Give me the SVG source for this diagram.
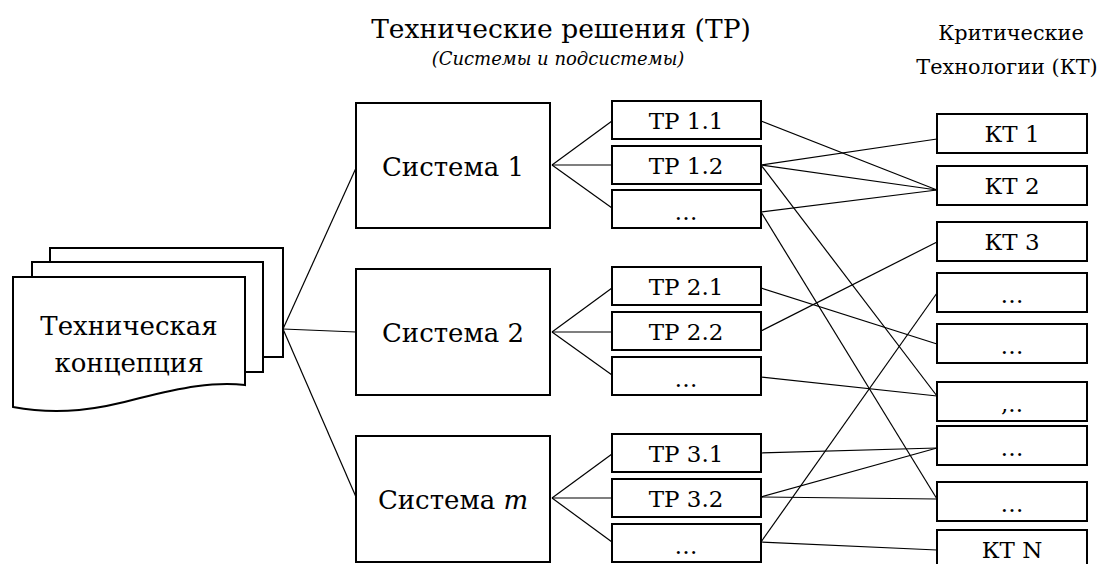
<svg xmlns="http://www.w3.org/2000/svg" width="1102" height="564" viewBox="0 0 1102 564">
<style>
.box{fill:#fff;stroke:#000;stroke-width:2}
.ln{stroke:#000;stroke-width:1.2;fill:none}
text{font-family:"DejaVu Serif",serif;fill:#000;text-anchor:middle}
.big{font-size:26.5px}
.sys{font-size:26px}
.hd{font-size:20.8px}
.mid{font-size:23px}
.it{font-style:italic;font-size:18px}
</style>
<rect width="1102" height="564" fill="#fff"/>
<g id="titles">
<text class="big" x="561" y="38">Технические решения (ТР)</text>
<text class="it" x="558" y="65">(Системы и подсистемы)</text>
<text class="hd" x="1011" y="40">Критические</text>
<text class="hd" x="1007" y="74">Технологии (КТ)</text>
</g>
<g id="connectors">
<line class="ln" x1="283" y1="329" x2="356" y2="168"/>
<line class="ln" x1="283" y1="329" x2="356" y2="332"/>
<line class="ln" x1="283" y1="329" x2="356" y2="497"/>
<line class="ln" x1="552" y1="165" x2="612" y2="121"/>
<line class="ln" x1="552" y1="165" x2="612" y2="165"/>
<line class="ln" x1="552" y1="165" x2="612" y2="208"/>
<line class="ln" x1="552" y1="332" x2="612" y2="288"/>
<line class="ln" x1="552" y1="332" x2="612" y2="332"/>
<line class="ln" x1="552" y1="332" x2="612" y2="375"/>
<line class="ln" x1="552" y1="498" x2="612" y2="454"/>
<line class="ln" x1="552" y1="498" x2="612" y2="498"/>
<line class="ln" x1="552" y1="498" x2="612" y2="542"/>
<line class="ln" x1="761" y1="121" x2="937" y2="190"/>
<line class="ln" x1="761" y1="165" x2="937" y2="139"/>
<line class="ln" x1="761" y1="165" x2="937" y2="190"/>
<line class="ln" x1="761" y1="165" x2="937" y2="396"/>
<line class="ln" x1="761" y1="212" x2="937" y2="190"/>
<line class="ln" x1="761" y1="212" x2="937" y2="499"/>
<line class="ln" x1="761" y1="288" x2="937" y2="344"/>
<line class="ln" x1="761" y1="331" x2="937" y2="242"/>
<line class="ln" x1="761" y1="377" x2="937" y2="396"/>
<line class="ln" x1="761" y1="453" x2="937" y2="448"/>
<line class="ln" x1="761" y1="497" x2="937" y2="448"/>
<line class="ln" x1="761" y1="497" x2="937" y2="499"/>
<line class="ln" x1="761" y1="542" x2="937" y2="293"/>
<line class="ln" x1="761" y1="542" x2="937" y2="550"/>
</g>
<g id="concept">
<rect class="box" x="50" y="248" width="233" height="109"/>
<rect class="box" x="32" y="262" width="231" height="110"/>
<path class="box" d="M13,277 H245 V385 C215,381 180,388 140,398 C100,409 60,416 13,407 Z"/>
<text class="sys" x="129" y="335">Техническая</text>
<text class="sys" x="129" y="372">концепция</text>
</g>
<g id="sys1"><rect class="box" x="356" y="103" width="194" height="125"/><text class="sys" x="453" y="176">Система 1</text></g>
<g id="sys2"><rect class="box" x="356" y="269" width="194" height="126"/><text class="sys" x="453" y="342">Система 2</text></g>
<g id="sysm"><rect class="box" x="356" y="436" width="194" height="126"/><text class="sys" x="453" y="509">Система <tspan font-style="italic">m</tspan></text></g>
<g id="tr11"><rect class="box" x="612" y="101" width="149" height="38"/><text class="mid" x="686" y="129">ТР 1.1</text></g>
<g id="tr12"><rect class="box" x="612" y="146" width="149" height="38"/><text class="mid" x="686" y="174">ТР 1.2</text></g>
<g id="tr1x"><rect class="box" x="612" y="190" width="149" height="38"/><text class="mid" x="686" y="220">…</text></g>
<g id="tr21"><rect class="box" x="612" y="267" width="149" height="38"/><text class="mid" x="686" y="295">ТР 2.1</text></g>
<g id="tr22"><rect class="box" x="612" y="312" width="149" height="38"/><text class="mid" x="686" y="340">ТР 2.2</text></g>
<g id="tr2x"><rect class="box" x="612" y="357" width="149" height="38"/><text class="mid" x="686" y="387">…</text></g>
<g id="tr31"><rect class="box" x="612" y="434" width="149" height="38"/><text class="mid" x="686" y="462">ТР 3.1</text></g>
<g id="tr32"><rect class="box" x="612" y="479" width="149" height="38"/><text class="mid" x="686" y="507">ТР 3.2</text></g>
<g id="tr3x"><rect class="box" x="612" y="524" width="149" height="38"/><text class="mid" x="686" y="554">…</text></g>
<g id="kt1"><rect class="box" x="937" y="114" width="150" height="39"/><text class="mid" x="1012" y="142">КТ 1</text></g>
<g id="kt2"><rect class="box" x="937" y="166" width="150" height="39"/><text class="mid" x="1012" y="194">КТ 2</text></g>
<g id="kt3"><rect class="box" x="937" y="222" width="150" height="39"/><text class="mid" x="1012" y="250">КТ 3</text></g>
<g id="ktx1"><rect class="box" x="937" y="273" width="150" height="39"/><text class="mid" x="1012" y="303">…</text></g>
<g id="ktx2"><rect class="box" x="937" y="324" width="150" height="39"/><text class="mid" x="1012" y="354">…</text></g>
<g id="ktx3"><rect class="box" x="937" y="382" width="150" height="39"/><text class="mid" x="1012" y="412">,..</text></g>
<g id="ktx4"><rect class="box" x="937" y="426" width="150" height="39"/><text class="mid" x="1012" y="456">…</text></g>
<g id="ktx5"><rect class="box" x="937" y="482" width="150" height="39"/><text class="mid" x="1012" y="512">…</text></g>
<g id="ktn"><rect class="box" x="937" y="530" width="150" height="40"/><text class="mid" x="1012" y="558">КТ N</text></g>
</svg>
